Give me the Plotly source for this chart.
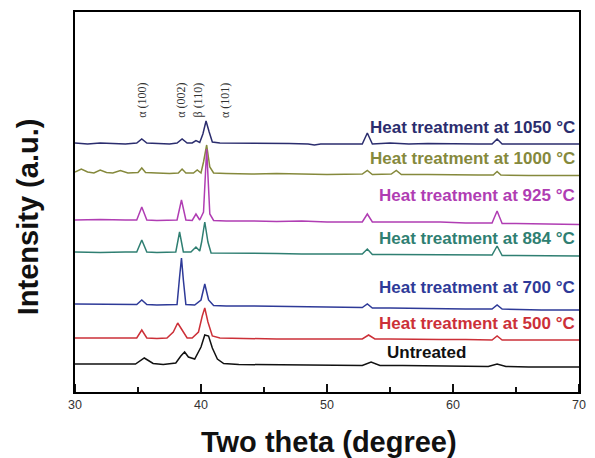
import plotly.graph_objects as go

# ---- data (intensity in arbitrary, offset units) ----
x_1050 = [30, 31, 32, 33, 34, 34.9, 35.3, 35.7, 36.5, 37.5, 38.1, 38.5, 38.9, 39.3, 39.6, 39.9, 40.15, 40.4, 40.65, 40.9, 41.5, 43, 45, 47, 48.5, 49, 49.5, 51, 52.8, 53.2, 53.6, 55, 56.5, 58, 60, 62, 63.1, 63.5, 63.9, 65, 67, 70]
y_1050 = [249, 248, 249, 248.5, 248, 249, 253, 249, 248.5, 248, 249, 253, 249, 249, 251.5, 249.5, 258, 271, 260, 250, 249, 249, 248.5, 248.5, 248, 247, 248, 248, 248, 259, 248, 249, 248, 248.5, 248, 248, 248, 253, 248, 248, 247.5, 248]

x_1000 = [30, 30.5, 31, 31.5, 32, 32.5, 33, 33.6, 34.2, 35, 35.3, 35.6, 36.5, 37.5, 38.2, 38.5, 38.8, 39.4, 39.7, 40.0, 40.2, 40.45, 40.7, 41, 42, 44, 46, 48, 50, 52.8, 53.2, 53.6, 55.1, 55.5, 55.9, 58, 60, 62, 63.2, 63.5, 63.8, 66, 70]
y_1000 = [220, 223, 220, 219, 222, 219.5, 219, 221.5, 219, 219.5, 224, 219.5, 219, 218.5, 219, 223, 219, 219, 222, 219, 230, 247, 225, 219, 218.5, 218, 218.5, 218, 217.5, 218, 221.5, 217.5, 218, 221.5, 217.5, 217.5, 217, 217, 217, 220.5, 217, 216.5, 216.5]

x_925 = [30, 32, 34, 34.9, 35.3, 35.7, 36.5, 37.5, 38.1, 38.45, 38.8, 39.3, 39.6, 39.9, 40.2, 40.45, 40.7, 41, 42, 44, 46, 48, 50, 52.8, 53.2, 53.6, 55, 57, 59, 61, 63.1, 63.5, 63.9, 65, 67, 70]
y_925 = [172, 172.5, 172, 172, 185, 172, 171.5, 172, 172, 192, 172, 171.5, 178, 172, 180, 243, 178, 171.5, 171, 171, 170.5, 171, 170, 170, 178, 170, 170, 169.5, 170, 169, 169, 181, 168.5, 168.5, 168, 167.5]

x_884 = [30, 32, 34, 34.9, 35.3, 35.7, 36.5, 37.5, 38.0, 38.3, 38.6, 39.2, 39.6, 39.9, 40.05, 40.3, 40.55, 40.8, 42, 44, 46, 48, 50, 52.8, 53.2, 53.6, 55, 57, 59, 61, 63.1, 63.5, 63.9, 65, 67, 70]
y_884 = [140, 139.5, 140, 140, 152, 140, 139.5, 139.5, 140, 160, 140, 140, 145, 141, 150, 170, 150, 139, 139, 138.5, 138.5, 138, 138, 138, 143, 137.5, 137.5, 137.5, 137, 137, 137, 146, 136.5, 136.5, 136, 136]

x_700 = [30, 32, 34, 34.9, 35.3, 35.7, 36.5, 37.5, 38.1, 38.3, 38.45, 38.6, 38.8, 39.5, 40.0, 40.3, 40.6, 41, 42, 44, 46, 48, 50, 52.8, 53.2, 53.6, 55, 57, 59, 61, 63.1, 63.5, 63.9, 65, 67, 70]
y_700 = [88, 88, 87.5, 87.5, 92, 87.5, 87, 87, 87.5, 115, 134, 112, 87.5, 87, 92, 108, 92, 86.5, 86, 86, 85.5, 85.5, 85, 84.5, 88, 84, 84, 83.5, 83.5, 83, 83, 87, 83, 82.5, 82, 82]

x_500 = [30, 32, 34, 34.9, 35.3, 35.7, 36.5, 37.3, 37.8, 38.15, 38.5, 38.9, 39.3, 39.8, 40.1, 40.3, 40.55, 40.9, 41.5, 43, 46, 48, 50, 52.8, 53.3, 53.8, 55, 57, 59, 61, 63.1, 63.5, 63.9, 65, 67, 70]
y_500 = [54, 54, 53.5, 54, 62, 54, 53.5, 54, 60, 69, 62, 54, 54, 60, 76, 84, 70, 56, 54, 53.5, 53, 53, 53, 53, 57, 53, 53, 52.5, 52.5, 52.5, 52, 56, 52, 52, 52, 52]

x_untr = [30, 32, 34, 34.8, 35.5, 36.2, 37, 38, 38.4, 38.7, 39.0, 39.5, 40.0, 40.3, 40.6, 40.9, 41.3, 41.8, 43, 46, 48, 50, 52.8, 53.5, 54.2, 56, 58, 60, 62.8, 63.5, 64.2, 66, 68, 70]
y_untr = [28, 28, 27.5, 28, 34, 28.5, 27.5, 29, 36, 40, 35, 33, 45, 57, 56, 44, 33, 28.5, 27.5, 27, 27, 26.5, 26.5, 30, 26.5, 26.5, 26, 26, 25.5, 28, 25.5, 25, 25, 25]

series_names = ["Heat treatment at 1050 °C", "Heat treatment at 1000 °C", "Heat treatment at 925 °C",
                "Heat treatment at 884 °C", "Heat treatment at 700 °C", "Heat treatment at 500 °C", "Untreated"]
series_x = [x_1050, x_1000, x_925, x_884, x_700, x_500, x_untr]
series_y = [y_1050, y_1000, y_925, y_884, y_700, y_500, y_untr]
colors = ["#2b2d6e", "#85893c", "#b03db3", "#2f7f72", "#2e3a98", "#cc3038", "#111111"]
label_x = [69.85, 69.85, 69.85, 69.85, 69.85, 69.85, 57.9]
label_y = [265, 234, 197, 154, 105, 69, 40]

phase_labels = ["α (100)", "α (002)", "β (110)", "α (101)"]
phase_x = [35.3, 38.4, 39.8, 41.9]
phase_y = 292

x_ticks = [30, 40, 50, 60, 70]
x_minor_ticks = [35, 45, 55, 65]
major_tick_len = 8   # in y-axis units (1 unit = 1 px here)
minor_tick_len = 5

fig = go.Figure()
for xs, ys, c, n in zip(series_x, series_y, colors, series_names):
    fig.add_trace(go.Scatter(x=xs, y=ys, mode="lines", line=dict(color=c, width=1.5), name=n,
                             showlegend=False))

# inward tick marks built from the tick value lists
tick_x, tick_y = [], []
for tv in x_ticks:
    tick_x += [tv, tv, None]
    tick_y += [0, major_tick_len, None]
for tv in x_minor_ticks:
    tick_x += [tv, tv, None]
    tick_y += [0, minor_tick_len, None]
fig.add_trace(go.Scatter(x=tick_x, y=tick_y, mode="lines", line=dict(color="#111111", width=2),
                         hoverinfo="skip", showlegend=False, cliponaxis=False))

for n, c, lx, ly in zip(series_names, colors, label_x, label_y):
    fig.add_annotation(x=lx, y=ly, text="<b>" + n + "</b>", showarrow=False,
                       xanchor="right" if n != "Untreated" else "center", yanchor="middle",
                       font=dict(family="Liberation Sans, Arial", size=17, color=c))

for t, px in zip(phase_labels, phase_x):
    fig.add_annotation(x=px, y=phase_y, text=t, showarrow=False, textangle=-90,
                       xanchor="center", yanchor="middle",
                       font=dict(family="Liberation Serif, Times New Roman", size=12, color="#333333"))

# axis titles as annotations (keeps the plot area fixed)
fig.add_annotation(xref="paper", yref="paper", x=0, y=0.46, xshift=-47, text="<b>Intensity (a.u.)</b>",
                   showarrow=False, textangle=-90, xanchor="center", yanchor="middle",
                   font=dict(family="Liberation Sans, Arial", size=29, color="#111111"))
fig.add_annotation(xref="paper", yref="paper", x=0.5, y=0, yshift=-50, xshift=2,
                   text="<b>Two theta (degree)</b>", showarrow=False,
                   xanchor="center", yanchor="middle",
                   font=dict(family="Liberation Sans, Arial", size=29, color="#111111"))

fig.update_layout(
    width=595, height=458,
    margin=dict(l=75, r=9, t=12, b=66),
    paper_bgcolor="white", plot_bgcolor="white",
    xaxis=dict(range=[30, 70], tickvals=x_ticks, ticks="", showline=True, linecolor="black",
               linewidth=2, mirror=True, showgrid=False, zeroline=False,
               tickfont=dict(family="Liberation Sans, Arial", size=12.5, color="#333333")),
    yaxis=dict(range=[0, 380], showticklabels=False, ticks="", showline=True, linecolor="black",
               linewidth=2, mirror=True, showgrid=False, zeroline=False),
)

fig.write_html("out.html")
